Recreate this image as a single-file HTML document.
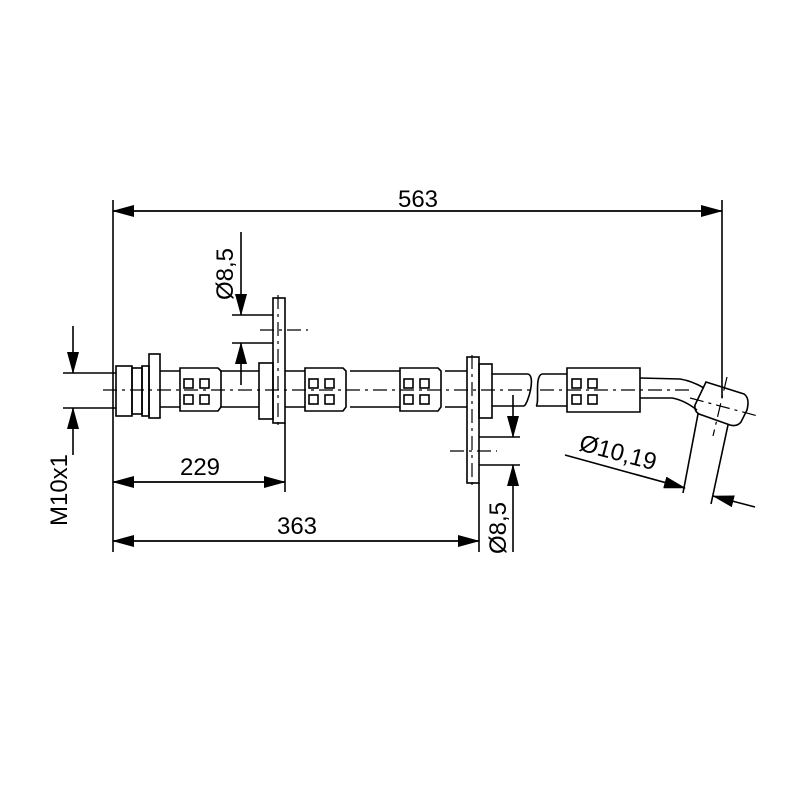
<!DOCTYPE html>
<html><head><meta charset="utf-8"><style>html,body{margin:0;background:#fff}svg{display:block}text{font-family:"Liberation Sans",sans-serif;font-size:24px;fill:#000}</style></head><body>
<svg width="800" height="800" viewBox="0 0 800 800" xmlns="http://www.w3.org/2000/svg">
<defs><marker id="a" markerWidth="22" markerHeight="12" refX="21" refY="6" orient="auto" markerUnits="userSpaceOnUse"><path d="M0,0 L22,6 L0,12z" fill="#000"/></marker></defs>
<g stroke="#000" stroke-width="1.6" fill="none">
<line x1="113" y1="200" x2="113" y2="552"/>
<line x1="722" y1="200" x2="722" y2="398"/>
<line x1="113" y1="211" x2="722" y2="211" marker-end="url(#a)"/>
<line x1="722" y1="211" x2="113" y2="211" marker-end="url(#a)"/>
<line x1="63" y1="373" x2="116" y2="373"/>
<line x1="63" y1="408" x2="116" y2="408"/>
<line x1="73" y1="326" x2="73" y2="373" marker-end="url(#a)"/>
<line x1="73" y1="455" x2="73" y2="408" marker-end="url(#a)"/>
<line x1="160" y1="371" x2="180" y2="371"/><line x1="160" y1="407" x2="180" y2="407"/>
<line x1="220" y1="371" x2="259" y2="371"/><line x1="220" y1="407" x2="259" y2="407"/>
<line x1="285" y1="371" x2="305" y2="371"/><line x1="285" y1="407" x2="305" y2="407"/>
<line x1="350" y1="371" x2="400" y2="371"/><line x1="350" y1="407" x2="400" y2="407"/>
<line x1="445" y1="371" x2="467" y2="371"/><line x1="445" y1="407" x2="467" y2="407"/>
<line x1="492" y1="374" x2="528" y2="374"/><line x1="492" y1="406" x2="524" y2="406"/>
<path d="M528,374 C536,376 528,404 524,406 M542,374 C534,376 540,404 536,406"/>
<line x1="542" y1="374" x2="567" y2="374"/><line x1="536" y1="406" x2="567" y2="406"/>
<rect x="116" y="366" width="16" height="50"/>
<rect x="132" y="368" width="10" height="46"/>
<rect x="142" y="366" width="7" height="50"/>
<rect x="149" y="354" width="11" height="64"/>
<g id="c"><path d="M180,368 L218,368 L221,371 L221,407 L218,411 L180,411 Z"/>
<rect x="184" y="379" width="9" height="9"/><rect x="200" y="379" width="9" height="9"/>
<rect x="184" y="395" width="9" height="9"/><rect x="200" y="395" width="9" height="9"/></g>
<use href="#c" x="125"/><use href="#c" x="220"/>
<path d="M567,368 L640,368 L640,412 L567,412 Z"/>
<rect x="572" y="379" width="9" height="9"/><rect x="588" y="379" width="9" height="9"/>
<rect x="572" y="395" width="9" height="9"/><rect x="588" y="395" width="9" height="9"/>
<rect x="259" y="363" width="14" height="56"/>
<rect x="273" y="298" width="12" height="125"/>
<rect x="467" y="357" width="12" height="126"/>
<rect x="479" y="364" width="13" height="54"/>
<path d="M640,378 L680,379 Q692,381 704,388"/>
<path d="M640,398 L672,398 Q684,400 697,410"/>
<path d="M706,382 L744,394 Q750,398 747,410 L741,422 Q737,427 730,425 L699,414 Q694,411 695,405 Z"/>
<line x1="285" y1="423" x2="285" y2="492"/>
<line x1="113" y1="482" x2="285" y2="482" marker-end="url(#a)"/>
<line x1="285" y1="482" x2="113" y2="482" marker-end="url(#a)"/>
<line x1="479" y1="483" x2="479" y2="552"/>
<line x1="113" y1="541" x2="479" y2="541" marker-end="url(#a)"/>
<line x1="479" y1="541" x2="113" y2="541" marker-end="url(#a)"/>
<line x1="232" y1="315" x2="273" y2="315"/><line x1="232" y1="343" x2="273" y2="343"/>
<line x1="241" y1="232" x2="241" y2="315" marker-end="url(#a)"/>
<line x1="241" y1="385" x2="241" y2="343" marker-end="url(#a)"/>
<line x1="479" y1="437" x2="520" y2="437"/><line x1="479" y1="465" x2="520" y2="465"/>
<line x1="513" y1="395" x2="513" y2="437" marker-end="url(#a)"/>
<line x1="513" y1="552" x2="513" y2="465" marker-end="url(#a)"/>
<line x1="698" y1="414" x2="683" y2="493"/>
<line x1="728" y1="425" x2="711" y2="504"/>
<line x1="565" y1="455" x2="685" y2="488" marker-end="url(#a)"/>
<line x1="755" y1="507" x2="713" y2="496" marker-end="url(#a)"/>
</g>
<g stroke="#000" stroke-width="1.2" stroke-dasharray="14,5,3,5" fill="none">
<line x1="103" y1="390" x2="530" y2="390"/>
<line x1="540" y1="390" x2="690" y2="390"/>
<line x1="260" y1="330" x2="308" y2="330"/>
<line x1="450" y1="451" x2="497" y2="451"/>
<line x1="278" y1="295" x2="278" y2="425"/>
<line x1="472" y1="355" x2="472" y2="486"/>
<line x1="727" y1="377" x2="713" y2="436"/>
<line x1="690" y1="398" x2="758" y2="416"/>
</g>
<text x="418" y="207" text-anchor="middle">563</text>
<text x="200" y="475" text-anchor="middle">229</text>
<text x="297" y="534" text-anchor="middle">363</text>
<text transform="translate(233,300) rotate(-90)">Ø8,5</text>
<text transform="translate(506,554) rotate(-90)">Ø8,5</text>
<text transform="translate(67,526) rotate(-90)">M10x1</text>
<text transform="translate(578,450) rotate(15)">Ø10,19</text>
</svg>
</body></html>
